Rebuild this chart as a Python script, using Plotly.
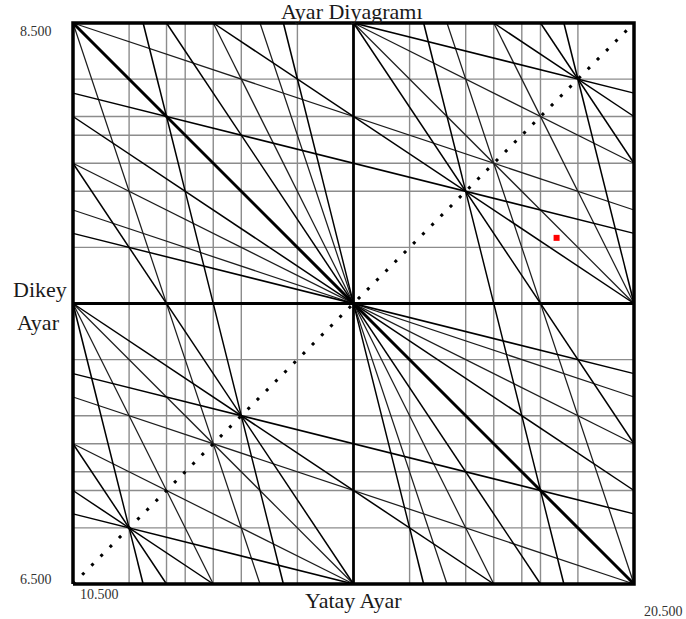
import plotly.graph_objects as go

# ---- data -------------------------------------------------------------
# sum resonance lines  a*Qx + b*Qy = c  (tunes shown from 0.5 to 1.5)
# third and fourth order lines
low_a = [1, 1, 1, 2, 2, 2, 1, 1, 1, 3, 3, 3, 2, 2]
low_b = [2, 2, 2, 1, 1, 1, 3, 3, 3, 1, 1, 1, 2, 2]
low_c = [2, 3, 4, 2, 3, 4, 3, 4, 5, 3, 4, 5, 3, 5]
# fifth order lines
res_a = [1, 1, 1, 1, 1, 2, 2, 2, 2, 2, 3, 3, 3, 3, 3, 4, 4, 4, 4, 4]
res_b = [4, 4, 4, 4, 4, 3, 3, 3, 3, 3, 2, 2, 2, 2, 2, 1, 1, 1, 1, 1]
res_c = [3, 4, 5, 6, 7, 3, 4, 5, 6, 7, 3, 4, 5, 6, 7, 3, 4, 5, 6, 7]
# second order line (drawn heavy)
main_a = [1]
main_b = [1]
main_c = [2]
# grid lines (both directions)
grid_q = [0.6, 0.6667, 0.7, 0.75, 0.8, 0.9, 1.1, 1.2, 1.25, 1.3, 1.3333, 1.4]
center_q = [1.0]
q_lo, q_hi = 0.5, 1.5
# working point
wp_qx = [1.362]
wp_qy = [1.117]

# ---- layout geometry ----------------------------------------------------
W, H = 686, 619
ML, MT, PW, PH = 69, 19, 569, 569
pad = 4 / 561.0


def seg(a, b, c):
    pts = []
    for x in (q_lo, q_hi):
        y = (c - a * x) / b
        if q_lo - 1e-9 <= y <= q_hi + 1e-9:
            pts.append((x, y))
    for y in (q_lo, q_hi):
        x = (c - b * y) / a
        if q_lo - 1e-9 <= x <= q_hi + 1e-9:
            pts.append((x, y))
    pts = sorted(set((round(p[0], 9), round(p[1], 9)) for p in pts))
    return pts[0], pts[-1]


def build(aa, bb, cc):
    xs, ys = [], []
    for a, b, c in zip(aa, bb, cc):
        p0, p1 = seg(a, b, c)
        xs += [p0[0], p1[0], None]
        ys += [p0[1], p1[1], None]
    return xs, ys


fig = go.Figure()

# grid
gx, gy = [], []
for q in grid_q:
    gx += [q, q, None]
    gy += [q_lo, q_hi, None]
    gx += [q_lo, q_hi, None]
    gy += [q, q, None]
fig.add_trace(go.Scatter(x=gx, y=gy, mode="lines",
                         line=dict(color="#8c8c8c", width=1.4),
                         hoverinfo="skip", showlegend=False))

# resonance lines
lx, ly = build(low_a, low_b, low_c)
fig.add_trace(go.Scatter(x=lx, y=ly, mode="lines",
                         line=dict(color="#1e1e1e", width=1.25),
                         hoverinfo="skip", showlegend=False))
rx, ry = build(res_a, res_b, res_c)
fig.add_trace(go.Scatter(x=rx, y=ry, mode="lines",
                         line=dict(color="#000000", width=1.5),
                         hoverinfo="skip", showlegend=False))
mx, my = build(main_a, main_b, main_c)
fig.add_trace(go.Scatter(x=mx, y=my, mode="lines",
                         line=dict(color="#000000", width=3),
                         hoverinfo="skip", showlegend=False))

# centre cross
cx, cy = [], []
for q in center_q:
    cx += [q, q, None, q_lo, q_hi, None]
    cy += [q_lo, q_hi, None, q, q, None]
fig.add_trace(go.Scatter(x=cx, y=cy, mode="lines",
                         line=dict(color="#000000", width=2.8),
                         hoverinfo="skip", showlegend=False))

# frame
fig.add_trace(go.Scatter(x=[q_lo, q_hi, q_hi, q_lo, q_lo],
                         y=[q_lo, q_lo, q_hi, q_hi, q_lo], mode="lines",
                         line=dict(color="#000000", width=3.5),
                         hoverinfo="skip", showlegend=False))

# difference resonance Qx = Qy (dotted)
fig.add_trace(go.Scatter(x=[q_lo, q_hi], y=[q_lo, q_hi], mode="lines",
                         line=dict(color="#000000", width=3, dash="3px,10px"),
                         hoverinfo="skip", showlegend=False))

# working point
fig.add_trace(go.Scatter(x=wp_qx, y=wp_qy, mode="markers",
                         marker=dict(symbol="square", size=6, color="#ff0000",
                                     line=dict(width=0)),
                         hoverinfo="skip", showlegend=False))


def px(xp, yp):
    return (xp - ML) / PW, 1 - (yp - MT) / PH


serif = "Liberation Serif, Times New Roman, serif"
labels = [
    ("Ayar Diyagramı", 352, 11, 22, "#1a1a1a"),
    ("Dikey", 40, 289, 22, "#1a1a1a"),
    ("Ayar", 38, 322, 22, "#1a1a1a"),
    ("Yatay Ayar", 353, 600, 22, "#1a1a1a"),
    ("8.500", 36, 32, 14, "#333333"),
    ("6.500", 36, 579, 14, "#333333"),
    ("10.500", 99, 594, 14, "#333333"),
    ("20.500", 664, 611, 14, "#333333"),
]
ann = []
for txt, xp, yp, fs, col in labels:
    xx, yy = px(xp, yp)
    ann.append(dict(text=txt, x=xx, y=yy, xref="paper", yref="paper",
                    xanchor="center", yanchor="middle", showarrow=False,
                    font=dict(family=serif, size=fs, color=col)))

fig.update_layout(
    width=W, height=H,
    margin=dict(l=ML, r=W - ML - PW, t=MT, b=H - MT - PH, pad=0),
    paper_bgcolor="white", plot_bgcolor="white",
    xaxis=dict(range=[q_lo - pad, q_hi + pad], visible=False, fixedrange=True),
    yaxis=dict(range=[q_lo - pad, q_hi + pad], visible=False, fixedrange=True),
    annotations=ann,
    showlegend=False,
)

fig.write_html("out.html")
